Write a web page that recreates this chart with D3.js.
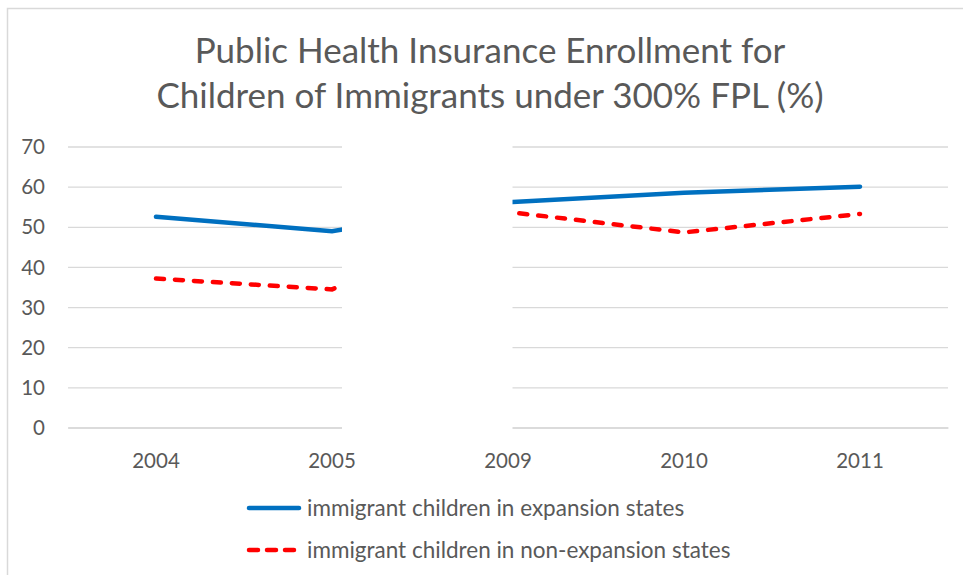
<!DOCTYPE html>
<html>
<head>
<meta charset="utf-8">
<script src="https://cdn.jsdelivr.net/npm/d3@7"></script>
<style>
  html, body { margin: 0; padding: 0; background: #fff; }
  svg { display: block; }
  text { font-family: Lato, "Open Sans", sans-serif; fill: #595959; }
</style>
</head>
<body>
<svg id="chart" width="963" height="575"></svg>
<script>
// ---- data ----
const categories = ["2004", "2005", "2009", "2010", "2011"];
const expansionValues = [52.5, 48.9, 56.1, 58.5, 60.0];
const nonExpansionValues = [37.1, 34.4, 53.7, 48.6, 53.2];
const yTicks = [0, 10, 20, 30, 40, 50, 60, 70];
const seriesNames = ["immigrant children in expansion states", "immigrant children in non-expansion states"];
const titleLines = ["Public Health Insurance Enrollment for", "Children of Immigrants under 300% FPL (%)"];

// ---- layout ----
const W = 963, H = 575;
const plot = { left: 68, right: 948, top: 146.5, bottom: 427.5 };
const svg = d3.select("#chart");

// frame
svg.append("path")
  .attr("d", `M7.5,${H} V8.5 H${W}`)
  .attr("fill", "none").attr("stroke", "#d9d9d9").attr("stroke-width", 1.5);

// title
svg.selectAll("text.title").data(titleLines).enter().append("text")
  .attr("class", "title")
  .attr("x", 490).attr("y", (d, i) => 63 + i * 45)
  .attr("text-anchor", "middle")
  .style("font-size", "35px")
  .text(d => d);

const x = d3.scaleBand().domain(categories).range([plot.left, plot.right]);
const y = d3.scaleLinear().domain([0, 70]).range([plot.bottom, plot.top]);

// gridlines
const yAxis = d3.axisLeft(y).tickValues(yTicks).tickSize(-(plot.right - plot.left)).tickPadding(23);
const gy = svg.append("g").attr("transform", `translate(${plot.left},0)`).call(yAxis);
gy.select(".domain").remove();
gy.selectAll(".tick line").attr("stroke", "#d9d9d9").attr("stroke-width", 1.3);
gy.selectAll(".tick text").style("font-size", "20.5px").attr("fill", "#595959").attr("dy", "0.35em");

// x axis
const xAxis = d3.axisBottom(x).tickSize(0).tickPadding(26);
const gx = svg.append("g").attr("transform", `translate(0,${plot.bottom})`).call(xAxis);
gx.select(".domain").attr("stroke", "#d9d9d9").attr("stroke-width", 1.5);
gx.selectAll(".tick text").style("font-size", "20.5px").attr("fill", "#595959");

const cx = d => x(d) + x.bandwidth() / 2;

const line = d3.line().x(d => cx(d[0])).y(d => y(d[1]));

svg.append("path")
  .datum(categories.map((c, i) => [c, nonExpansionValues[i]]))
  .attr("d", line)
  .attr("fill", "none").attr("stroke", "#ff0000").attr("stroke-width", 4.5)
  .attr("stroke-linecap", "round").attr("stroke-dasharray", "8,11");

svg.append("path")
  .datum(categories.map((c, i) => [c, expansionValues[i]]))
  .attr("d", line)
  .attr("fill", "none").attr("stroke", "#0070c0").attr("stroke-width", 4.5)
  .attr("stroke-linecap", "round");

// masked area between 2005 and 2009 (blank in reference)
svg.append("rect")
  .attr("x", 342).attr("y", 130).attr("width", 170.5).attr("height", 305)
  .attr("fill", "#fff");

// legend
const legend = svg.append("g");
const legendItems = [
  { name: seriesNames[0], color: "#0070c0", dash: null, y: 508 },
  { name: seriesNames[1], color: "#ff0000", dash: "9,9", y: 550 }
];
legendItems.forEach(it => {
  legend.append("line")
    .attr("x1", 249).attr("x2", 299).attr("y1", it.y).attr("y2", it.y)
    .attr("stroke", it.color).attr("stroke-width", 4.5)
    .attr("stroke-linecap", "round")
    .attr("stroke-dasharray", it.dash);
  legend.append("text")
    .attr("x", 307).attr("y", it.y + 8)
    .style("font-size", "22.5px")
    .text(it.name);
});
</script>
</body>
</html>
